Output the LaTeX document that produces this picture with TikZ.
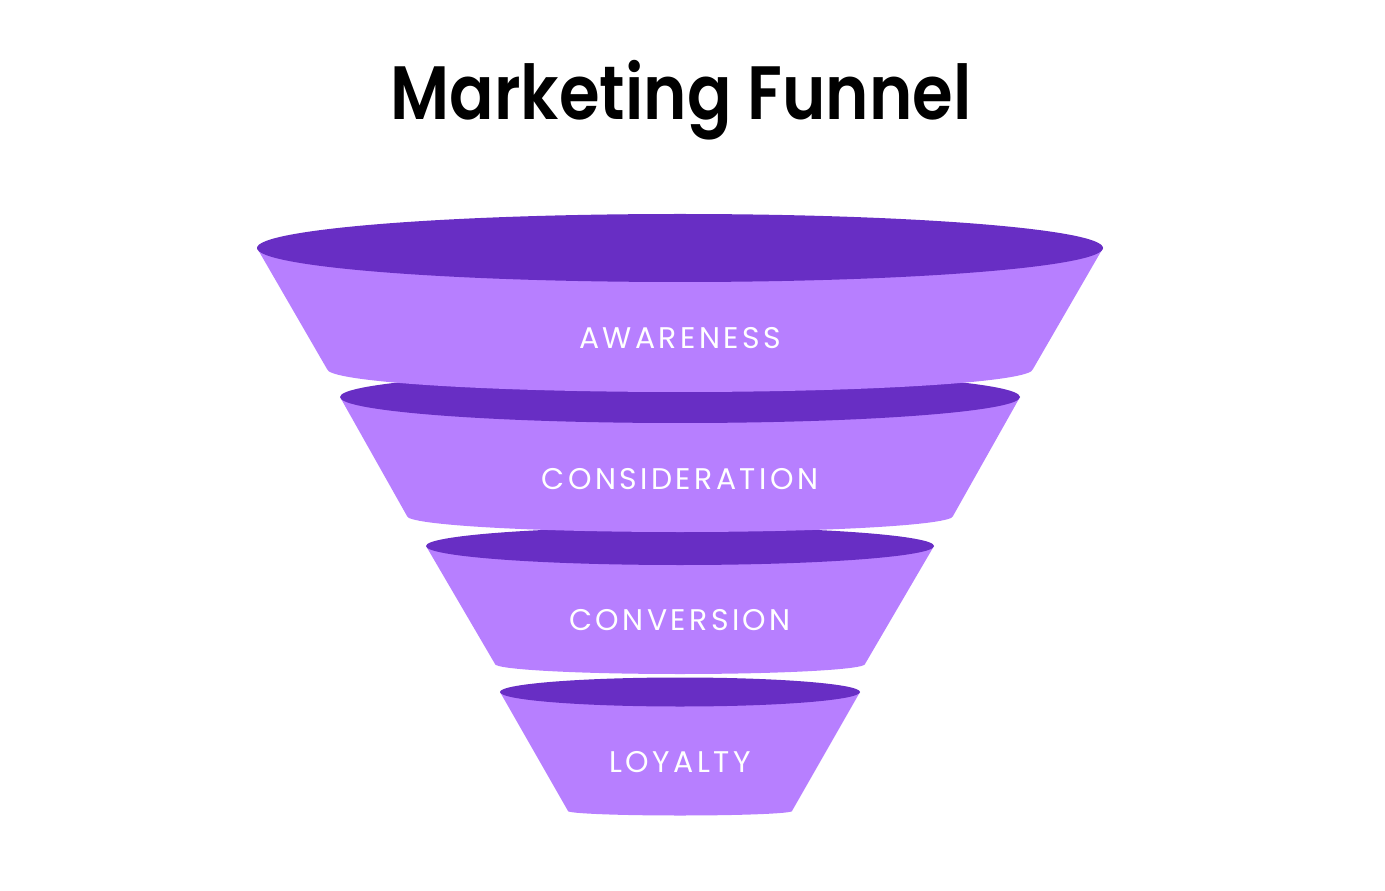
\documentclass[tikz,border=0pt]{standalone}
\usepackage{fontspec}
\setmainfont{Poppins}
\newfontfamily\titlefont{Poppins SemiBold}
\usepackage{tikz}
\definecolor{funneltop}{HTML}{682EC4}
\definecolor{funnelbody}{HTML}{B77FFF}
\tikzset{
  tierbody/.style={fill=funnelbody},
  tiertop/.style={fill=funneltop},
  tierlabel/.style={text=white, font=\fontsize{17}{20}\selectfont\addfontfeature{LetterSpace=11.5}, inner sep=0pt},
  titletext/.style={font=\titlefont\fontsize{43}{50}\selectfont, anchor=base, inner sep=0pt}
}

\begin{document}
\begin{tikzpicture}[x=0.02cm, y=-0.02cm]
\useasboundingbox (0,0) rectangle (1385,891);
\node[titletext] (title) at (681,120) {\scalebox{0.87}[1]{Marketing Funnel}};
% tiers drawn bottom-up so upper tiers cover lower ones
\foreach \yt/\wt/\rt/\yb/\wb/\rb/\ly/\name/\txt in {
  692/180/14.5/811/112/4.5/762/loyalty/LOYALTY,
  546/254/19/664/185/10/620/conversion/CONVERSION,
  397/340/26/516/273/16/479/consideration/CONSIDERATION,
  248/423/34/369/353/23/338/awareness/AWARENESS}{
  \fill[tierbody] (680-\wt,\yt) -- (680-\wb,\yb) -- (680+\wb,\yb) -- (680+\wt,\yt) -- cycle;
  \fill[tierbody] (680,\yb) ellipse [x radius=\wb, y radius=\rb];
  \fill[tiertop] (680,\yt) ellipse [x radius=\wt, y radius=\rt];
  \node[tierlabel] (\name) at (680,\ly) {\txt};
}
\end{tikzpicture}
\end{document}
